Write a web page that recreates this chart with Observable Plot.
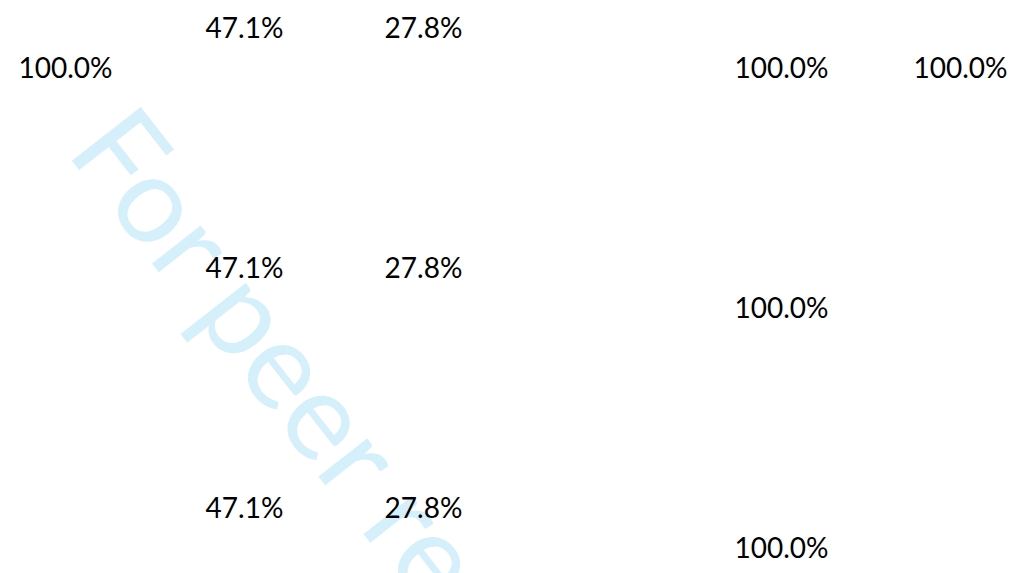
<!DOCTYPE html>
<html>
<head>
<meta charset="utf-8">
<script src="https://cdn.jsdelivr.net/npm/d3@7"></script>
<script src="https://cdn.jsdelivr.net/npm/@observablehq/plot@0.6"></script>
<style>
  html, body { margin: 0; padding: 0; background: #fff; }
  #chart { width: 1017px; height: 573px; overflow: hidden; }
</style>
</head>
<body>
<div id="chart"></div>
<script>
// Columns (one empty slot between C and E) and rows of the label grid
const columns = ["A", "B", "C", "D", "E", "F"];
const rows = ["R1", "R2", "R3"];

// Raised labels (columns B and C)
const raisedCols = ["B", "C", "B", "C", "B", "C"];
const raisedRows = ["R1", "R1", "R2", "R2", "R3", "R3"];
const raisedValues = [47.1, 27.8, 47.1, 27.8, 47.1, 27.8];

// Lower labels
const lowCols = ["A", "E", "F", "E", "E"];
const lowRows = ["R1", "R1", "R1", "R2", "R3"];
const lowValues = [100.0, 100.0, 100.0, 100.0, 100.0];

const watermark = "For peer review";

const raised = raisedValues.map((v, i) => ({col: raisedCols[i], row: raisedRows[i], value: v}));
const low = lowValues.map((v, i) => ({col: lowCols[i], row: lowRows[i], value: v}));
const fmt = v => v.toFixed(1) + "%";

const font = "Lato, 'Open Sans', sans-serif";

const plot = Plot.plot({
  width: 1017,
  height: 573,
  marginLeft: 64,
  marginRight: 57,
  marginTop: 69,
  marginBottom: 24,
  style: {background: "white", fontFamily: font},
  x: {type: "point", domain: columns, padding: 0, axis: null},
  y: {type: "point", domain: rows, padding: 0, axis: null},
  marks: [
    Plot.text(low, {x: "col", y: "row", text: d => fmt(d.value), fontSize: 28, fill: "#000"}),
    Plot.text(raised, {x: "col", y: "row", text: d => fmt(d.value), fontSize: 28, fill: "#000", dy: -40})
  ]
});

// Faint watermark behind the labels
d3.select(plot).insert("text", ":first-child")
  .attr("transform", "translate(65,152) rotate(52)")
  .attr("text-anchor", "start")
  .attr("font-family", font)
  .attr("font-size", 122)
  .attr("fill", "#d5effb")
  .text(watermark);

document.getElementById("chart").appendChild(plot);
</script>
</body>
</html>
